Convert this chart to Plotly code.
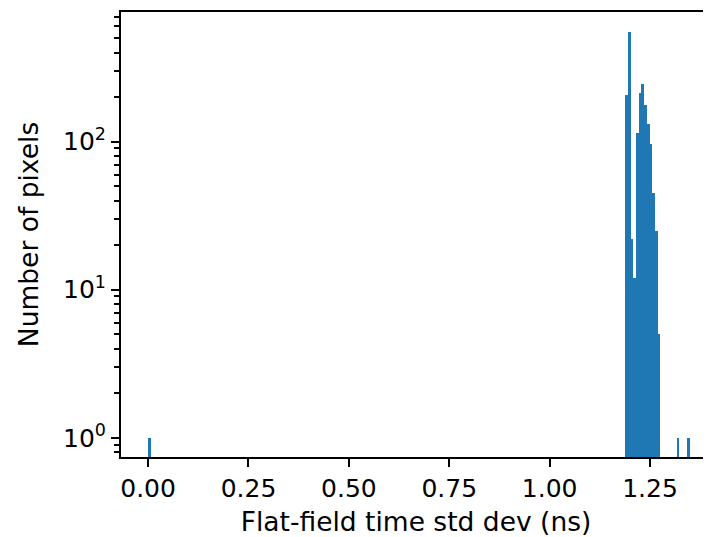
import plotly.graph_objects as go

# Histogram of flat-field time std dev (ns), 200 bins spanning [0, 1.35]
bin_width = 0.00675
bin_index = [0, 176, 177, 178, 179, 180, 181, 182, 183, 184, 185, 186, 187, 188, 195, 199]
counts = [1, 207, 551, 22, 12, 114, 214, 245, 177, 132, 96, 45, 25, 5, 1, 1]
bin_centers = [(i + 0.5) * bin_width for i in bin_index]

x_ticks = [0.0, 0.25, 0.5, 0.75, 1.0, 1.25]
x_tick_labels = ["0.00", "0.25", "0.50", "0.75", "1.00", "1.25"]
y_ticks = [1, 10, 100]
y_tick_labels = ["10<sup>0</sup>", "10<sup>1</sup>", "10<sup>2</sup>"]
y_minor = [0.8, 0.9] + [m * d for d in (1, 10, 100) for m in range(2, 10) if m * d < 760]

fig = go.Figure()
fig.add_trace(go.Bar(
    x=bin_centers, y=counts, width=[bin_width] * len(counts),
    marker=dict(color="#1f77b4", line=dict(width=0)),
))

font = dict(family="DejaVu Sans", size=25, color="black")
title_font = dict(family="DejaVu Sans", size=26.5, color="black")
fig.update_layout(
    width=703, height=529,
    margin=dict(l=113, r=0, t=4, b=80, autoexpand=False),
    paper_bgcolor="white", plot_bgcolor="white",
    bargap=0, showlegend=False, font=font,
    xaxis=dict(
        range=[-0.0675, 1.4018],
        tickvals=x_ticks, ticktext=x_tick_labels,
        ticks="outside", ticklen=8, tickwidth=2, tickcolor="black",
        showline=True, linecolor="black", linewidth=2, mirror=True,
        showgrid=False, zeroline=False, automargin=False,
        title=dict(text="Flat-field time std dev (ns)", font=title_font, standoff=10),
    ),
    yaxis=dict(
        type="log", range=[-0.130, 2.876],
        tickvals=y_ticks, ticktext=y_tick_labels,
        ticks="outside", ticklen=8, tickwidth=2, tickcolor="black",
        minor=dict(tickvals=y_minor, ticks="outside", ticklen=5, tickwidth=1.5, tickcolor="black", showgrid=False),
        showline=True, linecolor="black", linewidth=2, mirror=False,
        showgrid=False, zeroline=False, automargin=False,
        title=dict(text="Number of pixels", font=title_font, standoff=17),
    ),
)

fig.write_html("out.html")
